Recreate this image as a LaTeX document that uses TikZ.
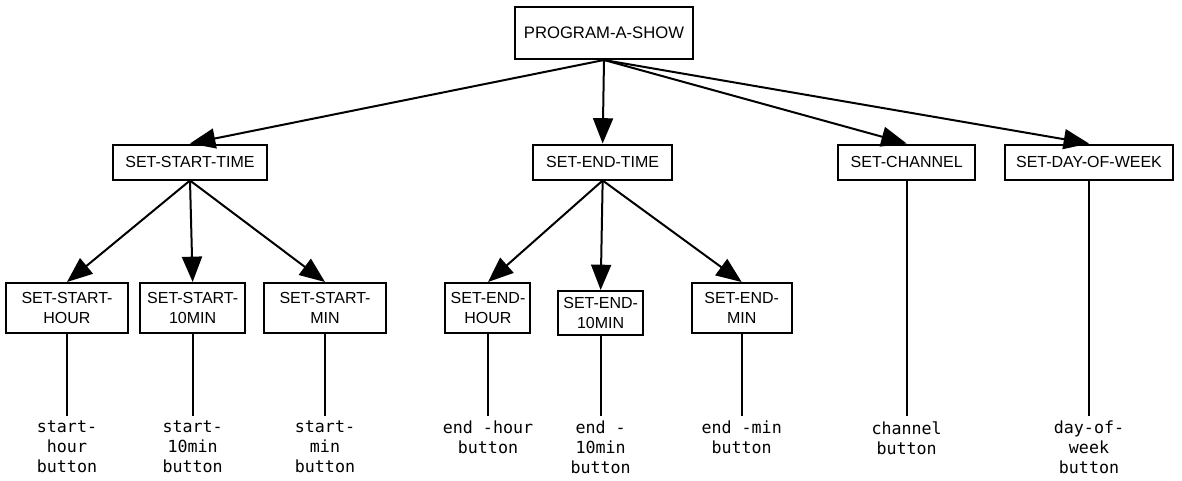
\documentclass[tikz,border=0pt]{standalone}
\usepackage{fontspec}
\setmainfont{Liberation Sans}
\setmonofont{DejaVu Sans Mono}
\usepackage{tikz}
\usetikzlibrary{positioning, arrows.meta}
\exhyphenpenalty=10000
\tikzstyle{topbox} = [rectangle, minimum width=132.75pt, minimum height=39pt, text centered, draw=black, line width=1.5pt, font=\fontsize{12.5}{15}\selectfont]
\tikzstyle{task} = [rectangle, minimum height=26.25pt, inner xsep=2pt, text centered, draw=black, line width=1.5pt, font=\fontsize{12}{14}\selectfont]
\tikzstyle{subtask} = [rectangle, minimum height=37.5pt, inner xsep=2pt, align=center, draw=black, line width=1.5pt, font=\fontsize{12}{14.5}\selectfont]
\tikzstyle{btn} = [inner xsep=2pt, inner ysep=4pt, align=center, font=\fontsize{12.5}{15}\selectfont\ttfamily]
\tikzstyle{arrow} = [-{Triangle[length=19pt, width=15pt]}, line width=1.5pt]
\tikzstyle{wire} = [line width=1.5pt]

\begin{document}
\begin{tikzpicture}[node distance=96.75pt]
  \useasboundingbox (-453pt,24.75pt) rectangle (433.5pt,-335.25pt);
  % 任务节点
  \node (show) [topbox] {PROGRAM-A-SHOW};
  \node (sst) [task, below of=show, xshift=-310.5pt, minimum width=115.5pt] {SET-START-TIME};
  \node (set) [task, below of=show, xshift=-1pt, minimum width=104.25pt] {SET-END-TIME};
  \node (sch) [task, below of=show, xshift=227pt, minimum width=102.75pt] {SET-CHANNEL};
  \node (sdw) [task, below of=show, xshift=363.75pt, minimum width=126pt] {SET-DAY-OF-WEEK};
  \node (ssh) [subtask, below of=sst, yshift=-12.75pt, xshift=-92.25pt, text width=87.5pt] {SET-START-\\HOUR};
  \node (ss10) [subtask, below of=sst, yshift=-12.75pt, xshift=2pt, text width=74.75pt] {SET-START-\\10MIN};
  \node (ssm) [subtask, below of=sst, yshift=-12.75pt, xshift=101.25pt, text width=87.5pt] {SET-START-\\MIN};
  \node (seh) [subtask, below of=set, yshift=-12.75pt, xshift=-86pt, text width=59.75pt] {SET-END-\\HOUR};
  \node (se10) [subtask, below of=set, yshift=-16.5pt, xshift=-1.5pt, text width=59.75pt, minimum height=33pt] {SET-END-\\10MIN};
  \node (sem) [subtask, below of=set, yshift=-12.75pt, xshift=104.25pt, text width=71pt] {SET-END-\\MIN};

  % 按钮
  \node (bsh) [btn, below of=ssh, anchor=north, yshift=16pt] {start-\\hour\\button};
  \node (bs10) [btn, below of=ss10, anchor=north, yshift=16pt] {start-\\10min\\button};
  \node (bsm) [btn, below of=ssm, anchor=north, yshift=16pt] {start-\\min\\button};
  \node (beh) [btn, below of=seh, anchor=north, yshift=16pt] {end -hour\\button};
  \node (be10) [btn, below of=se10, anchor=north, yshift=19.75pt] {end -\\10min\\button};
  \node (bem) [btn, below of=sem, anchor=north, yshift=16pt] {end -min\\button};
  \node (bch) [btn, below of=sch, anchor=north, yshift=-93.5pt] {channel\\button};
  \node (bdw) [btn, below of=sdw, anchor=north, yshift=-93.5pt] {day-of-\\week\\button};

  % 连线
  \draw [arrow](show.south) -- (sst.north);
  \draw [arrow](show.south) -- (set.north);
  \draw [arrow](show.south) -- (sch.north);
  \draw [arrow](show.south) -- (sdw.north);
  \draw [arrow](sst.south) -- (ssh.north);
  \draw [arrow](sst.south) -- (ss10.north);
  \draw [arrow](sst.south) -- (ssm.north);
  \draw [arrow](set.south) -- (seh.north);
  \draw [arrow](set.south) -- (se10.north);
  \draw [arrow](set.south) -- (sem.north);
  \draw [wire](ssh) -- (bsh);
  \draw [wire](ss10) -- (bs10);
  \draw [wire](ssm) -- (bsm);
  \draw [wire](seh) -- (beh);
  \draw [wire](se10) -- (be10);
  \draw [wire](sem) -- (bem);
  \draw [wire](sch) -- (bch);
  \draw [wire](sdw) -- (bdw);
\end{tikzpicture}
\end{document}
